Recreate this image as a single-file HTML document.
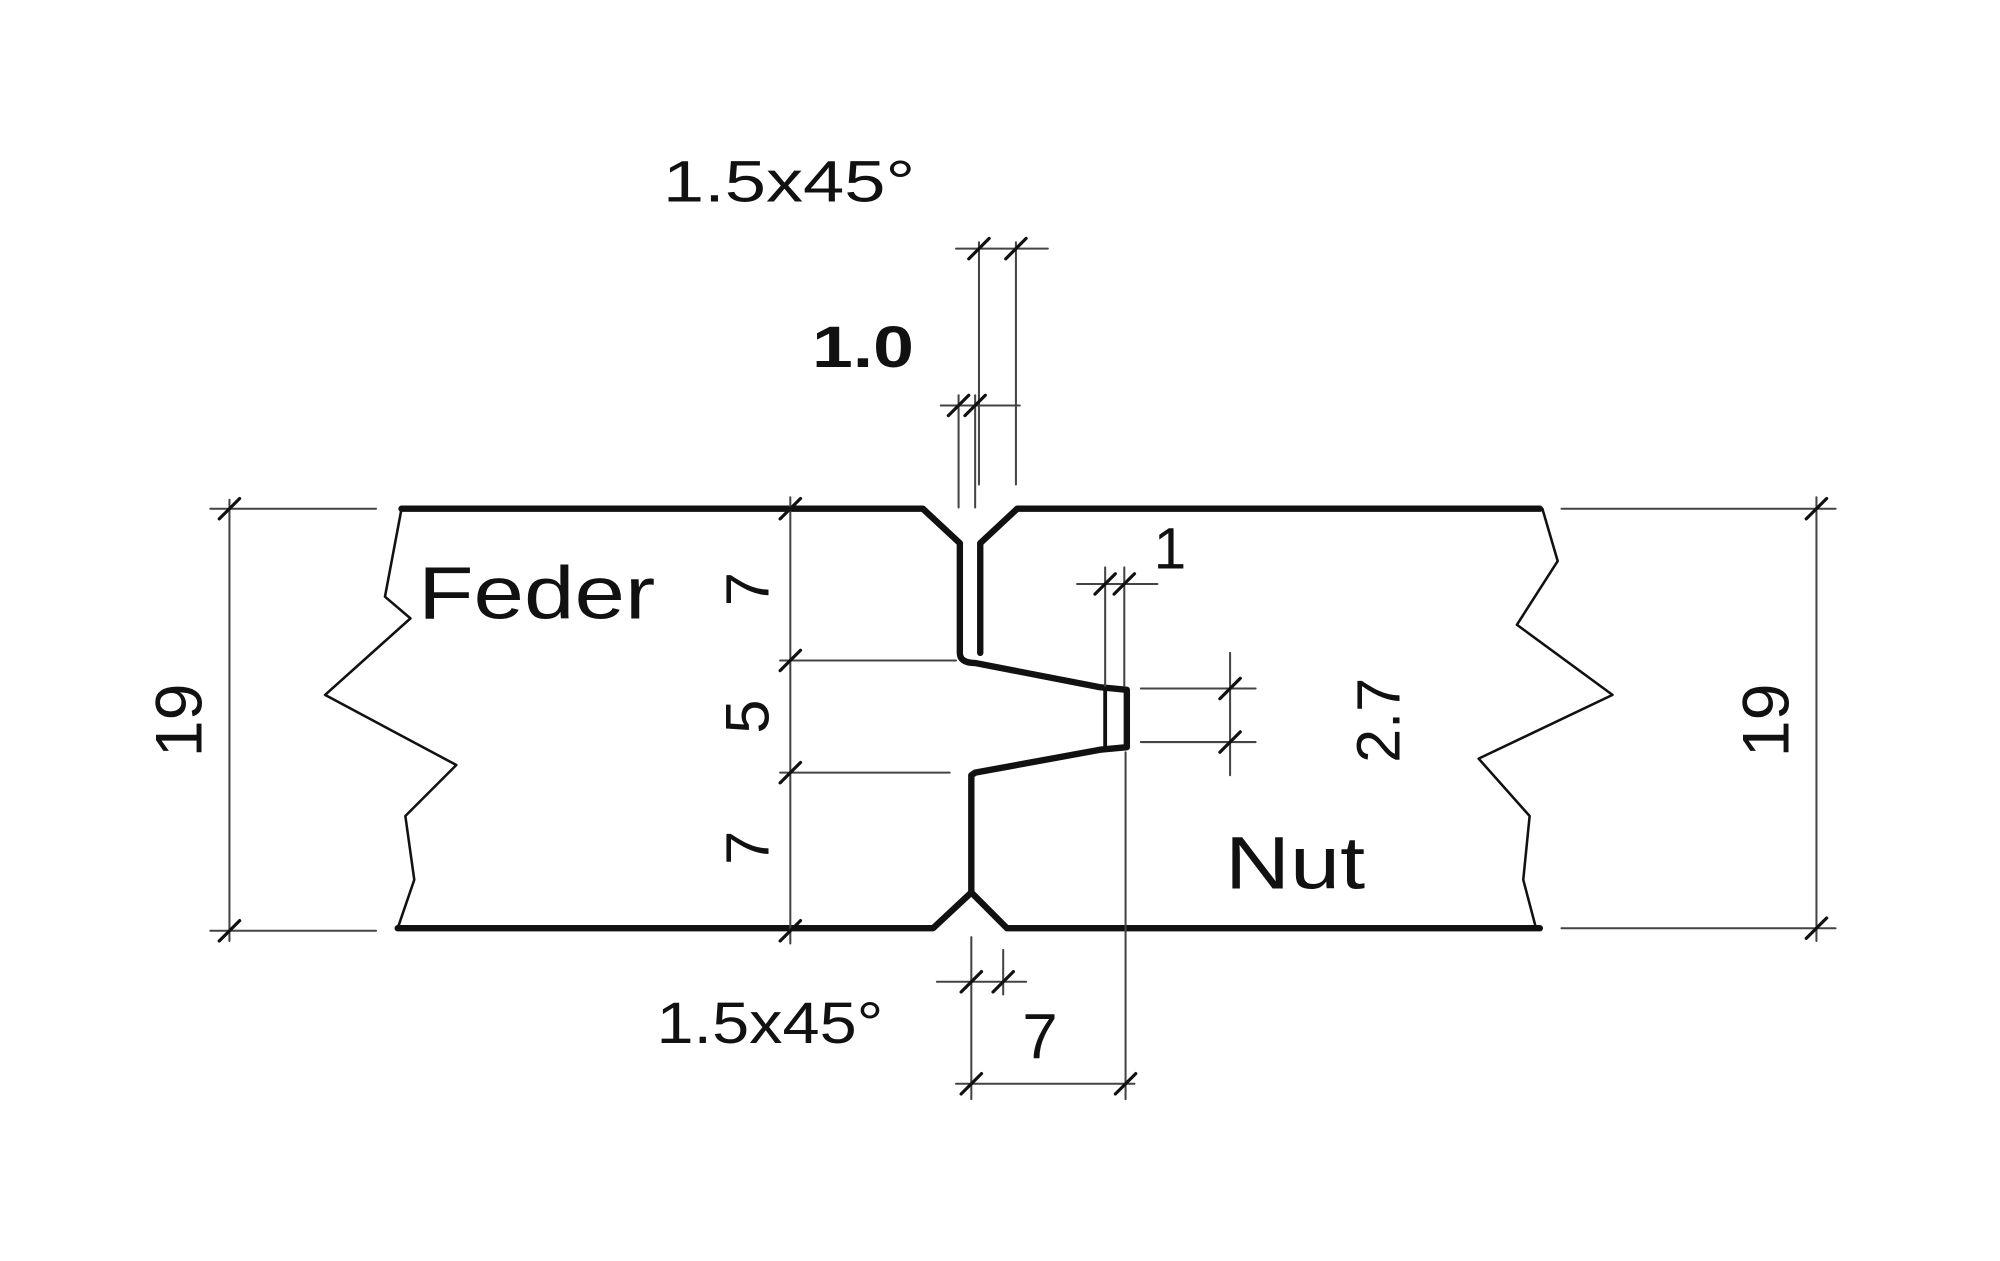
<!DOCTYPE html>
<html><head><meta charset="utf-8"><style>
html,body{margin:0;padding:0;background:#fff;}
svg{display:block;}
text{font-family:"Liberation Sans",sans-serif;fill:#111;}
</style></head><body>
<svg width="2000" height="1261" viewBox="0 0 1569 989" preserveAspectRatio="none" xmlns="http://www.w3.org/2000/svg">
<g fill="none" stroke="#111" stroke-linejoin="round" stroke-linecap="round">
<g stroke-width="5">
<path d="M315,399 L724,399 L753,426 L753,512 Q753,520 765,520 L863,539 L884,541 L884,586 L863,588 L765,606 L762,608 L762,700 L732,728 L312,728"/>
<path d="M1208,399 L798,399 L769,426 L769,512"/>
<path d="M762,700 L790,728 L1208,728"/>
</g>
<path d="M867,541 L867,586" stroke-width="3"/>
<g stroke-width="2">
<path d="M315,399 L302,468 L322,485 L255,545 L358,600 L318,640 L325,690 L312,728"/>
<path d="M1210,399 L1222,440 L1190,490 L1265,545 L1160,595 L1200,640 L1195,690 L1205,728"/>
</g>
<g stroke="#444" stroke-width="1.6">
<line x1="165" y1="399" x2="295" y2="399"/><line x1="165" y1="730" x2="295" y2="730"/>
<line x1="180" y1="392" x2="180" y2="738"/>
<line x1="1225" y1="399" x2="1440" y2="399"/><line x1="1225" y1="728" x2="1440" y2="728"/>
<line x1="1425" y1="390" x2="1425" y2="738"/>
<line x1="620" y1="390" x2="620" y2="740"/>
<line x1="612" y1="518" x2="750" y2="518"/><line x1="612" y1="606" x2="745" y2="606"/>
<line x1="752" y1="310" x2="752" y2="398"/><line x1="765" y1="310" x2="765" y2="398"/>
<line x1="768" y1="190" x2="768" y2="380"/><line x1="797" y1="190" x2="797" y2="380"/>
<line x1="738" y1="318" x2="800" y2="318"/><line x1="750" y1="195" x2="822" y2="195"/>
<line x1="845" y1="458" x2="908" y2="458"/>
<line x1="867" y1="445" x2="867" y2="538"/><line x1="882" y1="445" x2="882" y2="538"/>
<line x1="895" y1="540" x2="985" y2="540"/><line x1="895" y1="582" x2="985" y2="582"/>
<line x1="965" y1="512" x2="965" y2="608"/>
<line x1="883" y1="590" x2="883" y2="862"/>
<line x1="762" y1="735" x2="762" y2="862"/><line x1="787" y1="745" x2="787" y2="780"/>
<line x1="735" y1="770" x2="805" y2="770"/>
<line x1="750" y1="850" x2="890" y2="850"/>
</g>
<g stroke="#111" stroke-width="2.5">
<path d="M172,407 L188,391 M172,738 L188,722 M1417,407 L1433,391 M1417,736 L1433,720"/>
<path d="M612,407 L628,391 M612,526 L628,510 M612,614 L628,598 M612,738 L628,722"/>
<path d="M744,326 L760,310 M757,326 L773,310 M760,203 L776,187 M789,203 L805,187"/>
<path d="M859,466 L875,450 M874,466 L890,450"/>
<path d="M957,548 L973,532 M957,590 L973,574"/>
<path d="M754,778 L770,762 M779,778 L795,762 M754,858 L770,842 M875,858 L891,842"/>
</g>
</g>
<g font-size="46">
<text x="520" y="158" textLength="198" lengthAdjust="spacingAndGlyphs">1.5x45°</text>
<text x="637" y="288" font-weight="bold" textLength="80" lengthAdjust="spacingAndGlyphs">1.0</text>
<text x="515" y="818" textLength="178" lengthAdjust="spacingAndGlyphs">1.5x45°</text>
<text x="802" y="830" font-size="50">7</text>
<text x="905" y="446">1</text>
<text x="328" y="485" font-size="58" textLength="186" lengthAdjust="spacingAndGlyphs">Feder</text>
<text x="961" y="697" font-size="58" textLength="110" lengthAdjust="spacingAndGlyphs">Nut</text>
<text transform="translate(158,565) rotate(-90)" text-anchor="middle" font-size="52">19</text>
<text transform="translate(1403,565) rotate(-90)" text-anchor="middle" font-size="52">19</text>
<text transform="translate(603,462) rotate(-90)" text-anchor="middle" font-size="48">7</text>
<text transform="translate(603,562) rotate(-90)" text-anchor="middle" font-size="48">5</text>
<text transform="translate(603,665) rotate(-90)" text-anchor="middle" font-size="48">7</text>
<text transform="translate(1098,565) rotate(-90)" text-anchor="middle" font-size="48">2.7</text>
</g>
</svg>
</body></html>
